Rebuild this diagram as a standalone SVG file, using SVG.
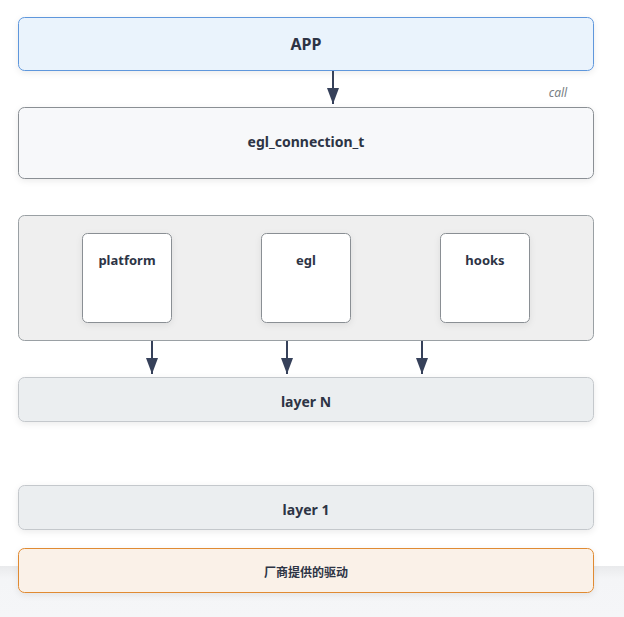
<svg xmlns="http://www.w3.org/2000/svg" width="624" height="617" viewBox="0 0 624 617">
<defs>
<filter id="sh" x="-10%" y="-30%" width="120%" height="170%">
<feDropShadow dx="0" dy="2" stdDeviation="3" flood-color="#000" flood-opacity="0.08"/>
</filter>
<linearGradient id="bg" x1="0" y1="0" x2="0" y2="1">
<stop offset="0" stop-color="#e9eaec"/>
<stop offset="0.25" stop-color="#f4f5f7"/>
<stop offset="1" stop-color="#f5f6f8"/>
</linearGradient>
<marker id="ah" markerWidth="16" markerHeight="12" refX="16" refY="6" orient="auto" markerUnits="userSpaceOnUse" viewBox="0 0 16 12">
<path d="M0,0 L16,6 L0,12 z" fill="#36415a"/>
</marker>
</defs>
<style>
text{font-family:"Noto Sans","Open Sans","Noto Sans CJK SC",sans-serif;font-weight:bold;fill:#2d3445;text-anchor:middle}
.conn line{stroke:#36415a;stroke-width:2}
</style>
<rect x="0" y="0" width="624" height="617" fill="#ffffff"/>
<rect x="0" y="566" width="624" height="51" fill="url(#bg)"/>

<g id="app">
<rect x="18.5" y="17.5" width="575" height="53" rx="6" fill="#eaf3fc" stroke="#5f97dc" filter="url(#sh)"/>
<text x="306" y="50" font-size="16">APP</text>
</g>
<g id="egl_connection_t">
<rect x="18.5" y="107.5" width="575" height="71" rx="6" fill="#f7f8fa" stroke="#8a8f94" filter="url(#sh)"/>
<text x="306" y="147" font-size="14">egl_connection_t</text>
</g>
<g id="container">
<rect x="18.5" y="215.5" width="575" height="125" rx="6" fill="#efefef" stroke="#9aa0a4"/>
</g>
<g id="platform">
<rect x="82.5" y="233.5" width="89" height="89" rx="5" fill="#ffffff" stroke="#8a8f94" filter="url(#sh)"/>
<text x="127" y="265" font-size="13">platform</text>
</g>
<g id="egl">
<rect x="261.5" y="233.5" width="89" height="89" rx="5" fill="#ffffff" stroke="#8a8f94" filter="url(#sh)"/>
<text x="306" y="265" font-size="13">egl</text>
</g>
<g id="hooks">
<rect x="440.5" y="233.5" width="89" height="89" rx="5" fill="#ffffff" stroke="#8a8f94" filter="url(#sh)"/>
<text x="485" y="265" font-size="13">hooks</text>
</g>
<g id="layerN">
<rect x="18.5" y="377.5" width="575" height="44" rx="6" fill="#ebeef0" stroke="#c4c8cc" filter="url(#sh)"/>
<text x="306" y="407" font-size="14">layer N</text>
</g>
<g id="layer1">
<rect x="18.5" y="485.5" width="575" height="44" rx="6" fill="#ebeef0" stroke="#c4c8cc" filter="url(#sh)"/>
<text x="306" y="515" font-size="14">layer 1</text>
</g>
<g id="vendor">
<rect x="18.5" y="548.5" width="575" height="44" rx="6" fill="#faf1e8" stroke="#e08a32" filter="url(#sh)"/>
<text x="306" y="577" font-size="12">厂商提供的驱动</text>
</g>
<g class="conn" id="connectors">
<line x1="333" y1="71" x2="333" y2="104" marker-end="url(#ah)"/>
<line x1="152" y1="341" x2="152" y2="374" marker-end="url(#ah)"/>
<line x1="287" y1="341" x2="287" y2="374" marker-end="url(#ah)"/>
<line x1="422" y1="341" x2="422" y2="374" marker-end="url(#ah)"/>
<text x="558" y="97" font-size="12" font-style="italic" style="fill:#7a7f85;font-weight:normal">call</text>
</g>
</svg>
